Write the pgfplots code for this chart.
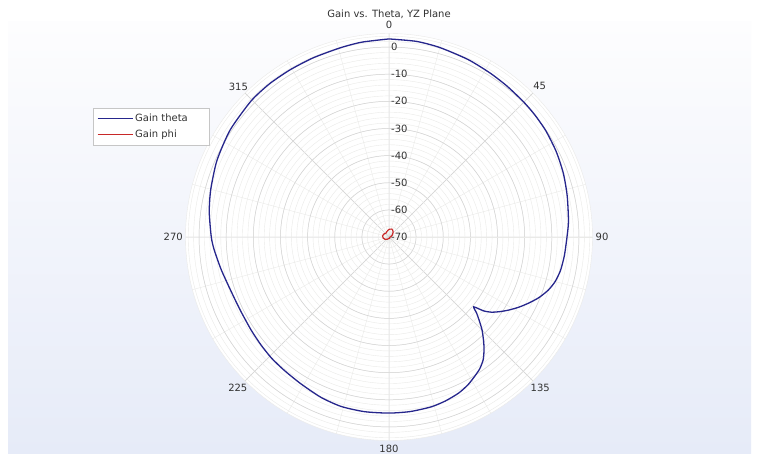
\documentclass[border=0pt]{standalone}
\usepackage{pgfplots}
\pgfplotsset{compat=1.18}
\usepgfplotslibrary{polar}
\usepackage{pgfplotstable}
\usepackage{fontspec}
\setmainfont{DejaVu Sans}
\definecolor{gtheta}{RGB}{38,38,140}
\definecolor{gphi}{RGB}{200,40,40}
\definecolor{bgtop}{RGB}{253,253,254}
\definecolor{bgbot}{RGB}{230,235,248}
\definecolor{gridmaj}{RGB}{212,212,212}
\definecolor{gridmin}{RGB}{234,234,232}
\definecolor{txt}{RGB}{50,50,50}

\pgfplotstableread{
theta gain
0 3.0
8 2.8
15 2.3
24 1.6
31.6 1.0
38 0.6
44.8 0.3
50 0.1
56 -0.2
63 -0.8
70 -1.6
77 -2.6
85 -3.6
90 -4.4
96 -5.0
101 -5.6
105 -6.6
108.4 -8.1
112 -10.4
115.4 -13.1
118.5 -15.7
121.5 -18.4
124 -20.8
126.3 -23.2
128 -25.8
129.5 -29.5
131 -27.2
132.7 -24.8
135 -21.5
138.1 -17.7
140.5 -15.0
142.6 -12.9
145.5 -11.0
148.7 -9.6
152 -8.2
156 -7.0
161 -6.1
166 -5.5
173 -5.2
180 -5.1
188 -5.0
195.8 -5.1
203 -5.8
211 -6.9
218 -7.5
224 -7.8
230 -8.3
236 -8.7
244 -8.9
251.5 -8.4
259 -7.0
265.8 -5.4
270 -4.5
278 -3.1
285 -2.0
294 -0.6
304 0.6
314.6 1.4
322 1.6
329.3 1.6
337 1.7
345.5 2.0
352 2.5
360 3.0
}\gaintheta

\pgfplotstableread{
theta gain
0 -67.2
20 -66.9
40 -67.6
60 -68.6
80 -69.3
100 -69.6
120 -69.7
140 -69.6
160 -69.5
180 -69.5
200 -69.3
220 -68.9
240 -68.3
260 -67.8
280 -67.6
300 -67.8
320 -68.2
340 -67.8
360 -67.2
}\gainphi

\begin{document}
\fontsize{10}{12}\selectfont
\begin{tikzpicture}[every node/.style={text=txt}]
\fill[white] (0pt,0pt) rectangle (759pt,453pt);
\shade[top color=bgtop, bottom color=bgbot] (8pt,0pt) rectangle (751pt,431pt);
\begin{polaraxis}[
  at={(389pt,216pt)}, anchor=center,
  scale only axis, width=407pt, height=407pt,
  ymin=0, ymax=75,
  xtick={0,45,...,315}, minor xtick={0,15,...,345},
  ytick={0,10,...,70}, minor ytick={2,4,...,74},
  xticklabel=\empty, yticklabel=\empty,
  grid=both,
  major grid style={draw=gridmaj, line width=0.5pt},
  minor grid style={draw=gridmin, line width=0.4pt},
  major tick length=0pt, minor tick length=0pt,
  axis line style={draw=gridmin},
  axis background/.style={fill=white},
  clip=false,
  legend style={at={(axis description cs:-0.228,0.818)}, anchor=north west,
    draw=gray!45, fill=white, font=\fontsize{10}{12}\selectfont, text=txt,
    inner xsep=4pt, inner ysep=4pt, row sep=3pt},
  legend cell align=left,
  legend image code/.code={\draw[#1, line width=1.3pt] (0pt,0pt) -- (35pt,0pt);},
]
\addplot[gtheta, line width=1.3pt, smooth, tension=0.4]
  table[x expr={90-\thisrow{theta}}, y expr={\thisrow{gain}+70}] {\gaintheta};
\addlegendentry{Gain theta\hspace*{15pt}}
\addplot[gphi, line width=1.2pt, smooth, tension=0.5]
  table[x expr={90-\thisrow{theta}}, y expr={\thisrow{gain}+70}] {\gainphi};
\addlegendentry{Gain phi}
% radial labels
\node[anchor=west, inner sep=0pt, xshift=2pt] at (axis cs:90,70) {0};
\node[anchor=west, inner sep=0pt, xshift=2pt] at (axis cs:90,60) {-10};
\node[anchor=west, inner sep=0pt, xshift=2pt] at (axis cs:90,50) {-20};
\node[anchor=west, inner sep=0pt, xshift=2pt] at (axis cs:90,40) {-30};
\node[anchor=west, inner sep=0pt, xshift=2pt] at (axis cs:90,30) {-40};
\node[anchor=west, inner sep=0pt, xshift=2pt] at (axis cs:90,20) {-50};
\node[anchor=west, inner sep=0pt, xshift=2pt] at (axis cs:90,10) {-60};
\node[anchor=west, inner sep=0pt, xshift=2pt] at (axis cs:90,0) {-70};
% angle labels
\node at (axis cs:90,78.1) {0};
\node at (axis cs:45,78.5) {45};
\node at (axis cs:0,78.5) {90};
\node at (axis cs:-45,78.8) {135};
\node at (axis cs:-90,78.1) {180};
\node at (axis cs:-135,78.8) {225};
\node at (axis cs:-180,79.5) {270};
\node at (axis cs:-225,78.5) {315};
\end{polaraxis}
\node at (389pt,439pt) {Gain vs. Theta, YZ Plane};
\end{tikzpicture}
\end{document}
